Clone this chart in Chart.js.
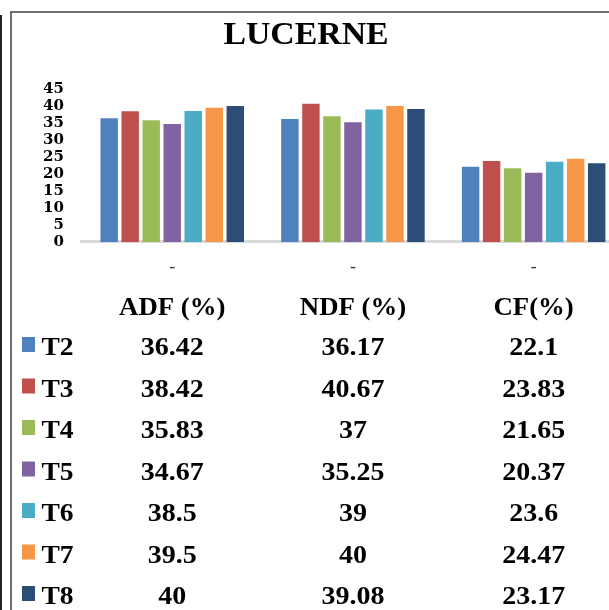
<!DOCTYPE html>
<html>
<head>
<meta charset="utf-8">
<script src="https://cdn.jsdelivr.net/npm/chart.js@4.4.1/dist/chart.umd.min.js"></script>
<style>
  html, body { margin: 0; padding: 0; overflow: hidden; background: #fff; width: 609px; height: 610px; }
  canvas { position: absolute; left: 0; top: 0; }
</style>
</head>
<body>
<canvas id="c" width="640" height="610"></canvas>
<script>
// ---- data ----
const titleText = "LUCERNE";
const categories = ["ADF (%)", "NDF (%)", "CF(%)"];
const xTickLabels = ["-", "-", "-"];
const seriesNames = ["T2", "T3", "T4", "T5", "T6", "T7", "T8"];
const T2 = [36.42, 36.17, 22.1];
const T3 = [38.42, 40.67, 23.83];
const T4 = [35.83, 37, 21.65];
const T5 = [34.67, 35.25, 20.37];
const T6 = [38.5, 39, 23.6];
const T7 = [39.5, 40, 24.47];
const T8 = [40, 39.08, 23.17];
const yTicks = [0, 5, 10, 15, 20, 25, 30, 35, 40, 45];

const seriesValues = [T2, T3, T4, T5, T6, T7, T8];
const colors = ["#4F81BD", "#C0504D", "#9BBB59", "#8064A2", "#4BACC6", "#F79646", "#2C4D75"];

function stretchText(ctx, t, x, y, sx, font, align) {
  ctx.save();
  ctx.font = font;
  ctx.textAlign = align;
  ctx.textBaseline = 'alphabetic';
  ctx.fillStyle = '#000';
  ctx.translate(x, y);
  ctx.scale(sx, 1);
  ctx.fillText(t, 0, 0);
  ctx.restore();
}

const tablePlugin = {
  id: 'lucerneTable',
  beforeDraw(chart) {
    const ctx = chart.ctx;
    ctx.save();
    ctx.fillStyle = '#fff';
    ctx.fillRect(0, 0, chart.width, chart.height);
    ctx.strokeStyle = '#222';
    ctx.lineWidth = 2;
    ctx.beginPath(); ctx.moveTo(1, 15); ctx.lineTo(1, 610); ctx.stroke();
    ctx.strokeStyle = '#6f6f6f';
    ctx.lineWidth = 2;
    ctx.beginPath(); ctx.moveTo(11, 610); ctx.lineTo(11, 12); ctx.lineTo(640, 12); ctx.stroke();
    ctx.restore();
  },
  afterDraw(chart) {
    const ctx = chart.ctx;
    const xs = chart.scales.x;
    const font = 'bold 25px "Liberation Serif"';
    stretchText(ctx, titleText, 306, 43.5, 1.09, 'bold 31px "Liberation Serif"', 'center');
    categories.forEach((c, i) => {
      stretchText(ctx, c, xs.getPixelForValue(i), 315, 1.07, font, 'center');
    });
    const rowBase = 355, rowGap = 41.5;
    chart.data.datasets.forEach((ds, r) => {
      const by = rowBase + r * rowGap;
      ctx.fillStyle = ds.backgroundColor;
      ctx.fillRect(22, by - 18, 13, 15);
      stretchText(ctx, ds.label, 41.5, by, 1.1, font, 'left');
      ds.data.forEach((v, i) => {
        stretchText(ctx, String(v), xs.getPixelForValue(i), by, 1.12, font, 'center');
      });
    });
  }
};

new Chart(document.getElementById('c'), {
  type: 'bar',
  data: {
    labels: categories,
    datasets: seriesNames.map((n, i) => ({
      label: n,
      data: seriesValues[i],
      backgroundColor: colors[i],
      borderWidth: 0,
      categoryPercentage: 0.814,
      barPercentage: 0.83
    }))
  },
  options: {
    responsive: false,
    devicePixelRatio: 1,
    animation: false,
    layout: { padding: { left: 25, right: 16, top: 89, bottom: 316.5 } },
    plugins: {
      legend: { display: false },
      title: { display: false },
      tooltip: { enabled: false }
    },
    scales: {
      x: {
        grid: { display: false, drawTicks: false },
        border: { display: true, color: '#D9D9D9', width: 3 },
        ticks: {
          padding: 15,
          color: '#404040',
          font: { family: 'Liberation Serif', size: 18 },
          callback: (v, i) => xTickLabels[i]
        }
      },
      y: {
        min: 0,
        max: 45,
        grid: { display: false, drawTicks: false },
        border: { display: false },
        afterBuildTicks: (s) => { s.ticks = yTicks.map(v => ({ value: v })); },
        ticks: {
          stepSize: 5,
          autoSkip: false,
          padding: 18,
          color: '#000',
          font: { family: 'DejaVu Serif', size: 15, weight: 'bold', lineHeight: 1 }
        }
      }
    }
  },
  plugins: [tablePlugin]
});
</script>
</body>
</html>
